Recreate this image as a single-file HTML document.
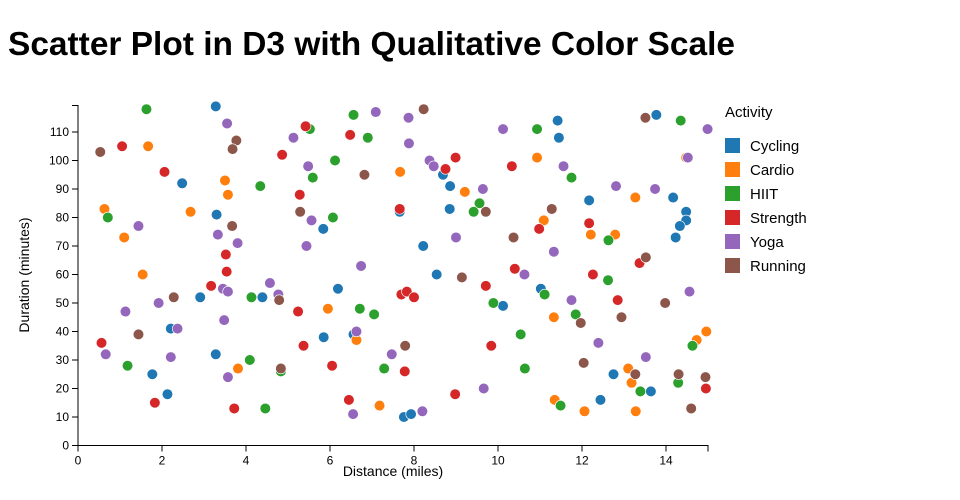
<!DOCTYPE html>
<html><head><meta charset="utf-8"><style>
html,body{margin:0;padding:0;background:#fff;}
svg{display:block;font-family:"Liberation Sans",sans-serif;}
</style></head><body>
<svg id="chart" width="960" height="500" viewBox="0 0 960 500">
<text x="8" y="55" font-size="33" font-weight="bold" fill="#000" textLength="727" lengthAdjust="spacingAndGlyphs">Scatter Plot in D3 with Qualitative Color Scale</text>
<g id="plot"></g>
<g id="xaxis"></g>
<g id="yaxis"></g>
<text x="393" y="476" font-size="14" text-anchor="middle" fill="#000">Distance (miles)</text>
<text transform="translate(29,275) rotate(-90)" font-size="14" text-anchor="middle" fill="#000">Duration (minutes)</text>
<svg x="0" y="0" width="808" height="500" overflow="hidden">
<g id="legend">
<text x="725" y="117" font-size="15" fill="#000">Activity</text>
</g></svg>
</svg>
<script>
const categories = ["Cycling","Cardio","HIIT","Strength","Yoga","Running"];
const colors = ["#1f77b4","#ff7f0e","#2ca02c","#d62728","#9467bd","#8c564b"];
const xTicks = [0,2,4,6,8,10,12,14];
const yTicks = [0,10,20,30,40,50,60,70,80,90,100,110];
const cycling = [[3.28,119],[2.48,92],[3.3,81],[2.91,52],[4.39,52],[2.21,41],[3.28,32],[1.77,25],[2.13,18],[8.69,95],[8.86,91],[7.66,82],[8.85,83],[5.84,76],[8.22,70],[8.54,60],[6.19,55],[10.12,49],[5.85,38],[6.56,39],[7.76,10],[7.93,11],[11.42,114],[11.45,108],[13.77,116],[12.17,86],[14.17,87],[14.48,82],[14.48,79],[14.33,77],[14.23,73],[11.02,55],[12.75,25],[13.64,19],[12.44,16]];
const cardio = [[1.67,105],[3.5,93],[3.57,88],[0.63,83],[2.68,82],[1.1,73],[1.54,60],[3.81,27],[7.67,96],[9.21,89],[5.95,48],[6.63,37],[7.18,14],[10.93,101],[14.48,101],[13.27,87],[11.09,79],[12.21,74],[12.79,74],[11.33,45],[14.96,40],[14.73,37],[13.1,27],[13.18,22],[11.35,16],[12.06,12],[13.28,12]];
const hiit = [[1.63,118],[4.34,91],[0.71,80],[4.13,52],[1.18,28],[4.09,30],[4.83,26],[4.46,13],[6.56,116],[5.52,111],[6.9,108],[6.12,100],[5.59,94],[9.56,85],[9.42,82],[6.07,80],[9.89,50],[6.71,48],[7.05,46],[7.29,27],[10.93,111],[14.35,114],[11.75,94],[12.63,72],[12.62,58],[11.11,53],[11.85,46],[10.54,39],[14.63,35],[10.64,27],[13.39,19],[14.29,22],[11.49,14]];
const strength = [[1.05,105],[4.86,102],[2.06,96],[3.52,67],[3.54,61],[3.17,56],[0.56,36],[1.83,15],[3.72,13],[5.42,112],[6.48,109],[8.99,101],[8.75,97],[5.28,88],[7.66,83],[7.7,53],[7.83,54],[8.0,52],[9.71,56],[5.24,47],[5.37,35],[6.05,28],[7.78,26],[9.84,35],[8.98,18],[6.45,16],[10.33,98],[10.98,76],[12.17,78],[13.37,64],[10.4,62],[12.26,60],[12.85,51],[14.95,20]];
const yoga = [[3.55,113],[5.13,108],[1.44,77],[3.33,74],[3.8,71],[4.57,57],[3.45,55],[3.57,54],[4.77,53],[1.92,50],[1.13,47],[3.48,44],[2.37,41],[0.66,32],[2.21,31],[3.57,24],[7.09,117],[7.87,115],[7.88,106],[10.12,111],[8.37,100],[8.47,98],[5.48,98],[9.64,90],[5.56,79],[9.0,73],[5.44,70],[6.74,63],[6.63,40],[7.47,32],[9.66,20],[6.55,11],[8.2,12],[14.99,111],[14.52,101],[11.56,98],[12.81,91],[13.74,90],[11.33,68],[10.63,60],[14.56,54],[11.75,51],[12.39,36],[13.52,31]];
const running = [[0.53,103],[3.77,107],[3.68,104],[3.67,77],[2.28,52],[4.79,51],[1.44,39],[4.83,27],[8.23,118],[6.82,95],[9.71,82],[5.29,82],[9.14,59],[7.79,35],[13.51,115],[11.28,83],[10.37,73],[13.52,66],[13.98,50],[12.94,45],[11.97,43],[12.04,29],[13.27,25],[14.3,25],[14.94,24],[14.6,13]];
const series = [cycling,cardio,hiit,strength,yoga,running];

const NS="http://www.w3.org/2000/svg";
const X0=78,X1=708,XMAX=15,Y0=445.5,PXPERMIN=2.85;
function xs(v){return X0+(X1-X0)*v/XMAX;}
function ys(v){return Y0-v*PXPERMIN;}
function mk(tag,attrs,parent){const e=document.createElementNS(NS,tag);for(const k in attrs)e.setAttribute(k,attrs[k]);parent.appendChild(e);return e;}

const plot=document.getElementById('plot');
series.forEach((s,i)=>{
  s.forEach(p=>{
    const c=mk('circle',{cx:xs(p[0]),cy:ys(p[1]),r:5.3,fill:colors[i],stroke:'#fff','stroke-width':0.6},plot);
    
    
  });
});

const xa=document.getElementById('xaxis');
const xl=mk('path',{d:`M${X0},${Y0+6}V${Y0}H${X1}V${Y0+6}`,stroke:'#000',fill:'none'},xa);


xTicks.forEach(t=>{
  const tk=mk('line',{x1:xs(t),x2:xs(t),y1:Y0,y2:Y0+6,stroke:'#000'},xa);
  
  
  const tl=mk('text',{x:xs(t),y:Y0+19,'font-size':12,'text-anchor':'middle',fill:'#000'},xa);
  
  
  tl.textContent=t;
});
const ya=document.getElementById('yaxis');
const yl=mk('path',{d:`M${X0-6},105.5H${X0}V${Y0}H${X0-6}`,stroke:'#000',fill:'none'},ya);


yTicks.forEach(t=>{
  const tk=mk('line',{x1:X0-6,x2:X0,y1:ys(t),y2:ys(t),stroke:'#000'},ya);
  
  
  const tl=mk('text',{x:X0-9,y:ys(t)+4,'font-size':12,'text-anchor':'end',fill:'#000'},ya);
  
  
  tl.textContent=t;
});

const lg=document.getElementById('legend');
categories.forEach((c,i)=>{
  const cy=145.5+i*24;
  const r=mk('rect',{x:725,y:cy-7.5,width:15,height:15,fill:colors[i]},lg);
  
  
  const t=mk('text',{x:750,y:cy+5.5,'font-size':15,fill:'#000'},lg);
  
  
  t.textContent=c;
});
</script>
</body></html>
